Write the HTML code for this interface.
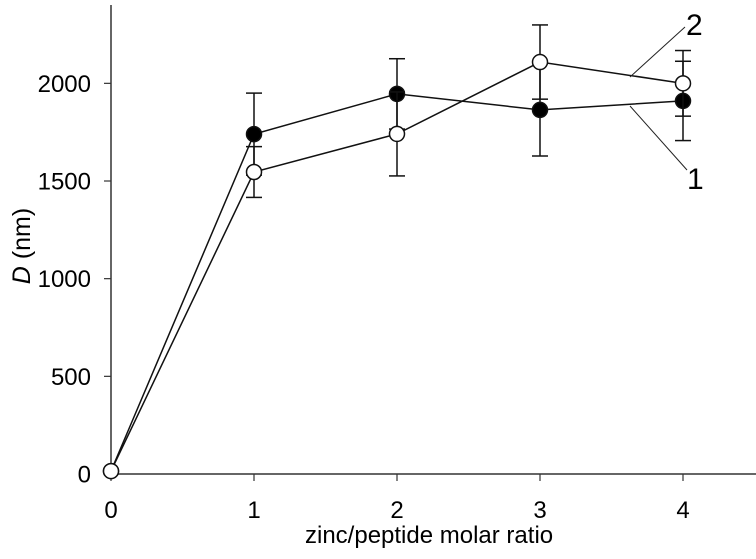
<!DOCTYPE html>
<html><head><meta charset="utf-8">
<style>
html,body{margin:0;padding:0;background:#fff;}
svg{display:block;font-family:"Liberation Sans",Arial,sans-serif;}
</style></head>
<body>
<svg id="chart" width="756" height="559" viewBox="0 0 756 559">
<g id="axes"></g>
<g id="series"></g>
<g>
  <line x1="685" y1="27" x2="630" y2="77" stroke="#222" stroke-width="1"/>
  <line x1="630" y1="106" x2="687" y2="170" stroke="#222" stroke-width="1"/>
  <text x="686" y="35" font-size="30">2</text>
  <text x="687" y="189" font-size="30">1</text>
</g>
<text x="305" y="543" font-size="24" text-anchor="start">zinc/peptide molar ratio</text>
<text transform="translate(30,246) rotate(-90)" font-size="25" text-anchor="middle"><tspan font-style="italic">D</tspan> (nm)</text>
</svg>
<script>
const categories = [0, 1, 2, 3, 4];
const series1Values = [15, 1740, 1946, 1864, 1910];
const series1Errors = [0, 210, 180, 236, 203];
const series2Values = [15, 1546, 1741, 2109, 2000];
const series2Errors = [0, 130, 215, 190, 168];
const xTicks = [0, 1, 2, 3, 4];
const yTicks = [0, 500, 1000, 1500, 2000];

const NS = "http://www.w3.org/2000/svg";
const x0 = 111, xStep = 143, yZero = 474, yScale = 0.19533;
function xPos(v){ return x0 + v * xStep; }
function yPos(v){ return yZero - v * yScale; }
function mk(tag, attrs, parent){
  const e = document.createElementNS(NS, tag);
  for (const k in attrs) e.setAttribute(k, attrs[k]);
  parent.appendChild(e);
  return e;
}
const axes = document.getElementById('axes');
const ser = document.getElementById('series');

let a = mk('line', {x1:x0, y1:5, x2:x0, y2:yZero, stroke:'#333', 'stroke-width':1.5}, axes);


a = mk('line', {x1:x0, y1:yZero, x2:756, y2:yZero, stroke:'#333', 'stroke-width':1.5}, axes);



yTicks.forEach(t => {
  const y = yPos(t);
  const l = mk('line', {x1:x0-7, y1:y, x2:x0, y2:y, stroke:'#333', 'stroke-width':1.2}, axes);
  
  
  const tx = mk('text', {x:x0-20, y:y+8.5, 'font-size':24, 'text-anchor':'end'}, axes);
  tx.textContent = t;
  
  
});
xTicks.forEach(t => {
  const x = xPos(t);
  const l = mk('line', {x1:x, y1:yZero, x2:x, y2:yZero+7, stroke:'#333', 'stroke-width':1.2}, axes);
  
  
  const tx = mk('text', {x:x, y:518, 'font-size':24, 'text-anchor':'middle'}, axes);
  tx.textContent = t;
  
  
});

function drawSeries(vals, errs, name){
  const g = mk('g', {}, ser);
  
  
  const pts = categories.map((c,i) => xPos(c) + ',' + yPos(vals[i])).join(' ');
  const pl = mk('polyline', {points:pts, fill:'none', stroke:'#111', 'stroke-width':1.5}, g);
  
  
  categories.forEach((c,i) => {
    if (!errs[i]) return;
    const x = xPos(c), yt = yPos(vals[i] + errs[i]), yb = yPos(vals[i] - errs[i]);
    const eg = mk('g', {stroke:'#111', 'stroke-width':1.5}, g);
    
    
    mk('line', {x1:x, y1:yt, x2:x, y2:yb}, eg);
    mk('line', {x1:x-8, y1:yt, x2:x+8, y2:yt}, eg);
    mk('line', {x1:x-8, y1:yb, x2:x+8, y2:yb}, eg);
  });
  return g;
}
function drawMarkers(g, vals, fill, name){
  categories.forEach((c,i) => {
    const m = mk('circle', {cx:xPos(c), cy:yPos(vals[i]), r:7.5, fill:fill, stroke:'#111', 'stroke-width':1.5}, g);
    
    
  });
}
const g1 = drawSeries(series1Values, series1Errors, 'series-1');
const g2 = drawSeries(series2Values, series2Errors, 'series-2');
drawMarkers(g1, series1Values, '#000', 'series-1');
drawMarkers(g2, series2Values, '#fff', 'series-2');
</script>
</body></html>
